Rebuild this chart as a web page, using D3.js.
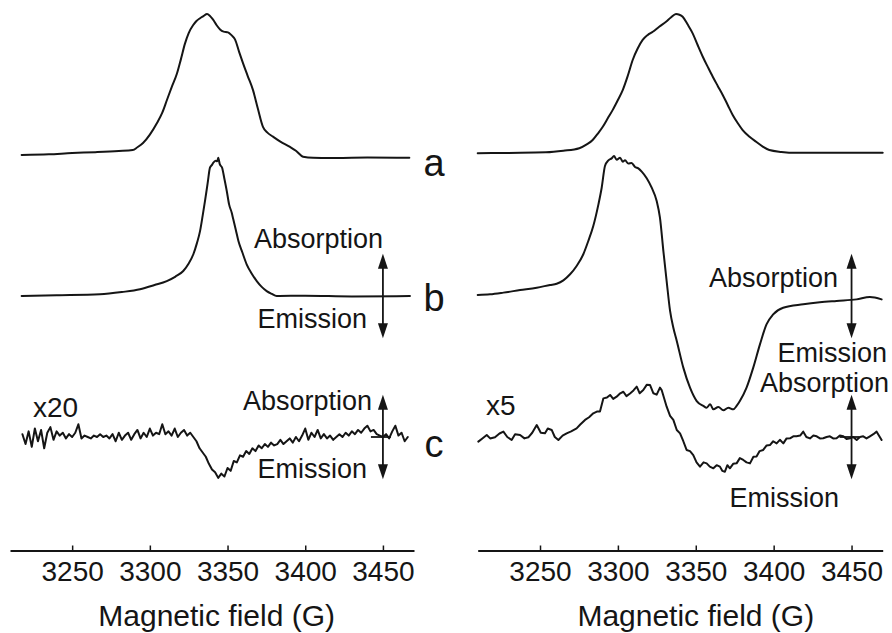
<!DOCTYPE html>
<html><head><meta charset="utf-8">
<script src="https://cdn.jsdelivr.net/npm/d3@7"></script>
<style>
html,body{margin:0;padding:0;background:#fff;}
svg{display:block;font-family:"Liberation Sans",Arial,Helvetica,sans-serif;}
</style></head><body>
<svg id="chart" width="892" height="633"></svg>
<script>
// ---------- DATA (field in G, signal in arbitrary units relative to each trace's baseline) ----------
const fieldDomain = [3210, 3470];
const tickValues = [3250, 3300, 3350, 3400, 3450];
const tickLabels = ["3250", "3300", "3350", "3400", "3450"];
const axisTitle = "Magnetic field (G)";
const traceNames = ["a", "b", "c"];
const traceOffsets = [0, -100, -200];
const gainLabels = ["x20", "x5"];
const dirLabels = ["Absorption", "Emission"];

const leftA = [[3217.5,0],[3235,0.5],[3250,1.4],[3265,2],[3280,2.8],[3289,3.5],[3292,5.5],[3295.6,8.5],[3300,14.5],[3304.6,22.7],[3308,30],[3311,39],[3314,48],[3317.5,58],[3320,68],[3322.6,79],[3325,86.5],[3327.8,92],[3330,95],[3332.3,97],[3334.5,98.5],[3336.8,100],[3338.8,98.5],[3340.7,96],[3343,92],[3345.2,89],[3347.5,87.5],[3350.3,87],[3352.5,85],[3354.8,82],[3357.5,73],[3360,65],[3363,56],[3366.4,46],[3369.5,33],[3372.8,20],[3375.5,16],[3379.3,13],[3384,9.5],[3390.2,5.7],[3394,3],[3398.6,-1.2],[3405,-2],[3420,-2.1],[3440,-1.8],[3467,-2]];

const leftB = [[3217.5,0],[3240,0.5],[3267.9,1.2],[3282,2.8],[3293.7,4.8],[3303,7.8],[3310.9,10.6],[3316.5,13.8],[3321.5,17.7],[3325,23],[3328,29.6],[3330.3,37.5],[3332.3,46],[3334,57],[3335.5,67.4],[3337.2,80],[3338.7,91],[3340,93],[3340.8,94.5],[3342.3,96],[3343.3,95.5],[3344,98],[3345,93.5],[3346.5,91],[3348,83],[3349.5,74.5],[3351,65],[3352.7,59],[3353.7,54.4],[3355.3,47],[3357,39],[3359.5,31],[3362.3,22.5],[3365.5,16],[3368.8,10.6],[3372,6.5],[3375.2,3.5],[3378.5,1.5],[3381.6,0],[3400,0.2],[3430,-0.3],[3467.4,0]];

const leftC = [[3218,2],[3220,-5],[3222,4],[3224,-7],[3226,6],[3228,-3],[3230,5],[3232,-8],[3234,3],[3236,7],[3238,-2],[3240,4],[3242,1],[3244,3],[3246,-1],[3248,2],[3250,0],[3252,3],[3254,9],[3256,-1],[3258,1],[3260,0],[3262,-1],[3264,1],[3266,0],[3268,2],[3270,0],[3272,1],[3274,-1],[3276,2],[3278,-3],[3280,3],[3282,-2],[3284,1],[3286,3],[3288,-2],[3290,2],[3292,5],[3294,-1],[3296,3],[3298,0],[3300,6],[3302,1],[3304,3],[3306,2],[3308,9],[3310,2],[3312,4],[3314,1],[3316,6],[3318,0],[3320,3],[3322,5],[3324,1],[3326,3],[3328,0],[3330,-3],[3332,-8],[3334,-11],[3336,-14],[3338,-19],[3340,-23],[3342,-25],[3344,-29],[3346,-26],[3348,-28],[3350,-22],[3352,-24],[3354,-17],[3356,-18],[3358,-13],[3360,-14],[3362,-10],[3364,-12],[3366,-8],[3368,-10],[3370,-6],[3372,-8],[3374,-5],[3376,-7],[3378,-4],[3380,-6],[3382,-5],[3384,-2],[3386,-5],[3388,-3],[3390,-1],[3392,-4],[3394,0],[3396,-3],[3398,1],[3400,6],[3402,-2],[3404,3],[3406,0],[3408,5],[3410,-1],[3412,2],[3414,-1],[3416,1],[3418,-2],[3420,0],[3422,2],[3424,0],[3426,3],[3428,1],[3430,4],[3432,2],[3434,5],[3436,3],[3438,6],[3440,8],[3442,4],[3444,5],[3446,2],[3448,1],[3450,0],[3452,2],[3454,-1],[3456,4],[3458,8],[3460,1],[3462,3],[3464,-3],[3466,0]];

const rightA = [[3210,1.2],[3230,1.5],[3253.8,1.9],[3265,3],[3275.2,4.8],[3280,7.5],[3283.8,10.6],[3287,15],[3290.3,20],[3293.5,26],[3296.7,32],[3300,39],[3303.1,46],[3306.3,56],[3309.5,67.4],[3312.7,75.5],[3315.9,81.6],[3319,85],[3322.4,87.4],[3326.5,91],[3330.9,94.5],[3334,97.5],[3337.3,100],[3339.5,99.5],[3341.6,98],[3344.8,92.5],[3348,86.3],[3351.2,78],[3354.5,69.7],[3357.7,62.5],[3360.9,55.5],[3364.1,49],[3367.3,42.6],[3370.5,35.5],[3373.7,28.4],[3377,22.5],[3380.1,17.7],[3384.5,13],[3388.7,9.4],[3393,6],[3397.2,3.5],[3405,2.2],[3414.4,1.6],[3440,1.6],[3470,1.6]];

const rightB = [[3210,0.7],[3217.9,1.2],[3226.5,2.4],[3237.2,4.2],[3247.9,5.9],[3256.4,7.8],[3260.7,8.7],[3265,11.1],[3269.3,15.4],[3273.5,21.3],[3277.8,29.6],[3281,39],[3284.2,49.6],[3287.5,65],[3289.6,76.8],[3291.7,92.2],[3293.9,96.2],[3296,97.6],[3297.5,99.3],[3299.2,96.7],[3301.4,98.1],[3303.1,95.3],[3304.6,96.2],[3306.7,93.9],[3308.8,94.3],[3311,91.5],[3313.1,90.5],[3315.3,88.2],[3318.5,83.5],[3321.7,76.8],[3324.9,67.4],[3327,55.6],[3329.2,31.9],[3331.3,10.6],[3333.5,-10.6],[3335.6,-22.5],[3337.8,-31.9],[3342,-50.8],[3346.3,-65],[3350.6,-74.5],[3354.9,-78],[3357,-79.2],[3359.2,-76.8],[3361.3,-80.4],[3364.5,-78.7],[3367.7,-81.1],[3370.9,-79.2],[3374.1,-80.4],[3376.2,-78],[3378.3,-74.5],[3382.6,-65],[3386.9,-50.8],[3391.2,-34.3],[3395.4,-20.1],[3399.7,-13],[3406.1,-8.3],[3419,-5.9],[3429.6,-4.5],[3440.4,-3.5],[3453.2,-2.4],[3461.8,-0.7],[3469.3,-2.4]];

const rightC = [[3210.4,-3.3],[3213,-1],[3215.8,1.4],[3218,-1],[3221.1,-0.2],[3224,2.5],[3226.5,3.8],[3229,0],[3231.8,-2.1],[3234,2],[3237.2,1.4],[3240,-1],[3242.5,-0.2],[3245,3],[3247.9,8.5],[3250.5,3],[3253.2,2.6],[3255,6],[3257.5,5],[3259.5,0],[3261.8,-2.1],[3264.5,1],[3267.1,2.6],[3270,4],[3273.5,6.1],[3276,9],[3278.9,12.1],[3281.5,14],[3284.2,16.8],[3286.5,18],[3288.5,18],[3290.7,27.4],[3293,28],[3295,29.8],[3297,27],[3299.2,28.6],[3301.5,31],[3303.5,32.1],[3305.5,29],[3307.8,30.9],[3310,33],[3312.1,35.7],[3314,31],[3316.3,33.3],[3318.5,37],[3320.6,36.9],[3322.8,31],[3324.9,30],[3327,35],[3328.1,33.3],[3331.3,21.5],[3333.5,15],[3335.6,12.1],[3337.8,5],[3339.9,2.6],[3342,-3],[3344.1,-9.2],[3346.3,-10],[3348.4,-12.8],[3350.5,-18],[3352.7,-21],[3355,-18],[3357,-18.7],[3359,-21],[3361.3,-22.2],[3363.4,-20],[3365.5,-21],[3367,-24],[3368.7,-24.6],[3370.3,-20],[3371.9,-22.2],[3374,-19],[3376.2,-18.7],[3378.3,-15],[3380.5,-16.3],[3382.6,-18],[3384.8,-18.7],[3387,-14],[3389,-13.9],[3391,-10],[3393.3,-9.2],[3395.5,-6],[3397.6,-5.7],[3399.7,-3],[3401.9,-4.5],[3404,-2],[3406.2,-4.5],[3408.3,-1],[3410.5,-0.9],[3412.6,0.5],[3414.7,0.5],[3417,1],[3419,3.8],[3421,0],[3423.3,-1],[3425.5,1],[3427.6,0.5],[3429.7,-1],[3431.8,-0.9],[3434,0],[3436.1,0.5],[3438.2,-1],[3440.4,-0.9],[3442.5,1],[3444.7,0.5],[3446.8,-1.5],[3449,-0.9],[3451,0],[3453.3,-2.1],[3455.4,0],[3457.5,0.5],[3459.6,-1],[3461.8,0.5],[3464,2],[3466.1,3.8],[3469.3,-2.1]];

// ---------- DRAWING ----------
const INK = "#151515";
const FONT = '"Liberation Sans", Arial, Helvetica, sans-serif';
const svg = d3.select("#chart");

const xL = d3.scaleLinear().domain(fieldDomain).range([10, 414]);
const xR = d3.scaleLinear().domain(fieldDomain).range([477.7, 882.7]);
const y = d3.scaleLinear().domain([-200, 100]).range([437, 14]);

function drawTrace(x, data, off, smooth) {
  const line = d3.line()
    .x(d => x(d[0]))
    .y(d => y(d[1] + off))
    .curve(smooth ? d3.curveMonotoneX : d3.curveLinear);
  svg.append("path").datum(data)
    .attr("d", line)
    .attr("fill", "none")
    .attr("stroke", INK)
    .attr("stroke-width", 2)
    .attr("stroke-linejoin", "round")
    .attr("stroke-linecap", "round");
}

function drawAxis(x) {
  const g = svg.append("g")
    .attr("transform", "translate(0,550.5)")
    .call(d3.axisBottom(x)
      .tickValues(tickValues)
      .tickFormat((d, i) => tickLabels[i])
      .tickSizeInner(-5)
      .tickSizeOuter(0)
      .tickPadding(11));
  g.attr("font-family", FONT).attr("font-size", 28);
  g.select(".domain").attr("stroke", INK).attr("stroke-width", 2);
  g.selectAll(".tick line").attr("stroke", INK).attr("stroke-width", 1.5);
  g.selectAll(".tick text").attr("fill", INK);
}

function drawArrow(x, field, off, cross) {
  const xp = x(field);
  const yTop = y(off + 30), yBot = y(off - 30);
  svg.append("line")
    .attr("x1", xp).attr("x2", xp)
    .attr("y1", yTop + 8).attr("y2", yBot - 8)
    .attr("stroke", INK).attr("stroke-width", 1.8);
  svg.append("path")
    .attr("d", `M${xp},${yTop}L${xp - 5},${yTop + 15}L${xp + 5},${yTop + 15}Z`)
    .attr("fill", INK);
  svg.append("path")
    .attr("d", `M${xp},${yBot}L${xp - 5},${yBot - 15}L${xp + 5},${yBot - 15}Z`)
    .attr("fill", INK);
  if (cross) {
    svg.append("line")
      .attr("x1", xp - 12).attr("x2", xp + 8)
      .attr("y1", y(off)).attr("y2", y(off))
      .attr("stroke", INK).attr("stroke-width", 1.8);
  }
}

function text(str, xp, yp, size, anchor) {
  svg.append("text")
    .attr("x", xp).attr("y", yp)
    .attr("font-family", FONT)
    .attr("font-size", size)
    .attr("fill", INK)
    .attr("text-anchor", anchor || "start")
    .text(str);
}

// traces
drawTrace(xL, leftA, traceOffsets[0], true);
drawTrace(xL, leftB, traceOffsets[1], true);
drawTrace(xL, leftC, traceOffsets[2], false);
drawTrace(xR, rightA, traceOffsets[0], true);
drawTrace(xR, rightB, traceOffsets[1], true);
drawTrace(xR, rightC, traceOffsets[2], false);

// axes
drawAxis(xL);
drawAxis(xR);
text(axisTitle, xL(3343), 626, 30, "middle");
text(axisTitle, xR(3350), 626, 30, "middle");

// trace letters
text(traceNames[0], 434, 176, 38, "middle");
text(traceNames[1], 434, 311, 38, "middle");
text(traceNames[2], 434, 457, 38, "middle");

// arrows
drawArrow(xL, 3450, traceOffsets[1], false);
drawArrow(xL, 3450, traceOffsets[2], true);
drawArrow(xR, 3450, traceOffsets[1], false);
drawArrow(xR, 3450, traceOffsets[2], true);

// direction labels
text(dirLabels[0], 383, 248, 27, "end");
text(dirLabels[1], 367, 328, 27, "end");
text(dirLabels[0], 372, 410, 27, "end");
text(dirLabels[1], 367, 478, 27, "end");
text(dirLabels[0], 838, 287, 27, "end");
text(dirLabels[1], 887, 362, 27, "end");
text(dirLabels[0], 889, 392, 27, "end");
text(dirLabels[1], 839, 507, 27, "end");

// gain labels
text(gainLabels[0], 33, 417, 28, "start");
text(gainLabels[1], 486, 415, 28, "start");
</script>
</body></html>
